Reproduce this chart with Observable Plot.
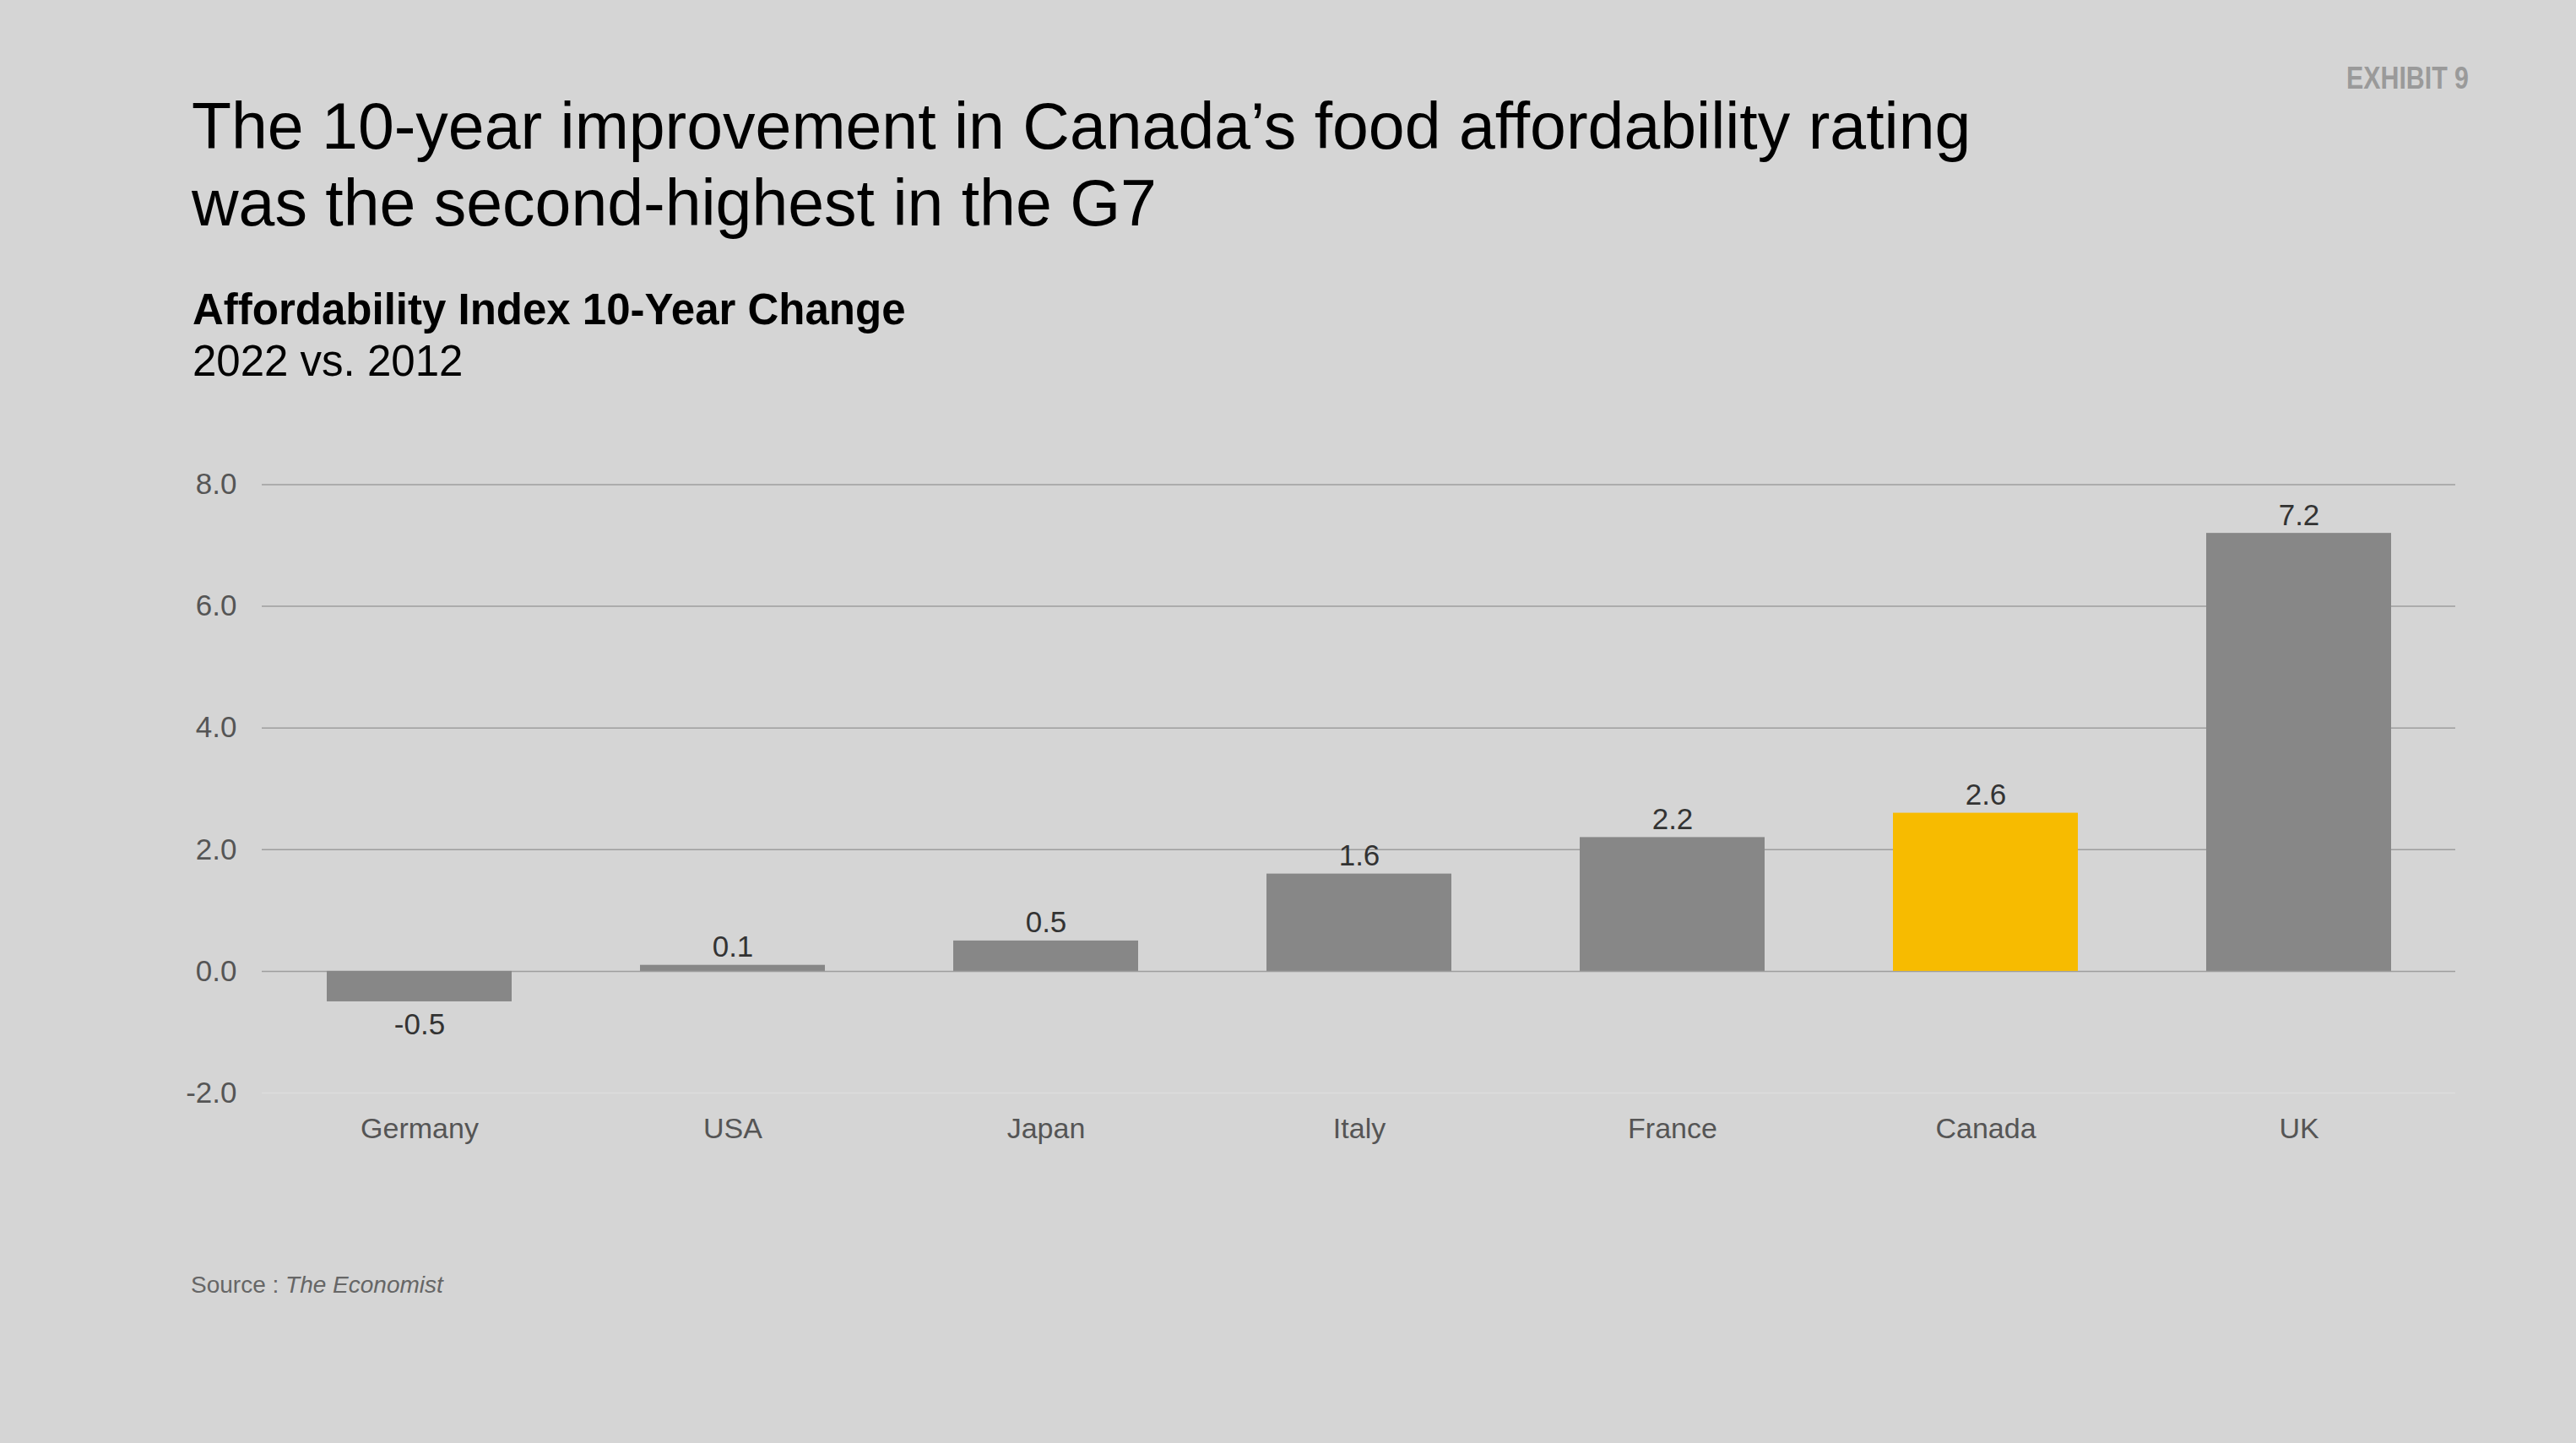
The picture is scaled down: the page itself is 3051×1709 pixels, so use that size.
<!DOCTYPE html>
<html>
<head>
<meta charset="utf-8">
<script src="https://cdn.jsdelivr.net/npm/d3@7"></script>
<script src="https://cdn.jsdelivr.net/npm/@observablehq/plot@0.6"></script>
<style>
  html, body { margin: 0; padding: 0; background: #d5d5d5; }
  #page { position: relative; width: 3051px; height: 1709px; background: #d5d5d5; font-family: "Liberation Sans", Arial, Helvetica, sans-serif; overflow: hidden; }
  #exhibit { position: absolute; left: 2779px; top: 74px; font-family: "Liberation Sans", Arial, sans-serif; font-weight: bold; font-size: 37px; color: #9a9a9a; line-height: 1; white-space: nowrap; transform: scaleX(0.82); transform-origin: left top; }
  #title { position: absolute; left: 227px; top: 104px; font-size: 77px; line-height: 91px; color: #000; white-space: nowrap; }
  #subtitle { position: absolute; left: 228px; top: 336px; font-size: 51px; line-height: 61px; color: #000; white-space: nowrap; }
  #subtitle b { font-weight: bold; }
  #chart { position: absolute; left: 0; top: 480px; }
  #source { position: absolute; left: 226px; top: 1506px; font-size: 28px; color: #666; white-space: nowrap; }
</style>
</head>
<body>
<div id="page">
  <div id="exhibit">EXHIBIT 9</div>
  <div id="title">The 10-year improvement in Canada’s food affordability rating<br>was the second-highest in the G7</div>
  <div id="subtitle"><b>Affordability Index 10-Year Change</b><br>2022 vs. 2012</div>
  <div id="chart"></div>
  <div id="source">Source : <i>The Economist</i></div>
</div>
<script>
const countries = ["Germany", "USA", "Japan", "Italy", "France", "Canada", "UK"];
const changes = [-0.5, 0.1, 0.5, 1.6, 2.2, 2.6, 7.2];
const highlight = "Canada";
const yTicks = [-2, 0, 2, 4, 6, 8];
const gridTicks = [0, 2, 4, 6, 8];

const data = countries.map((c, i) => ({country: c, value: changes[i]}));
const fmt = d => d.toFixed(1);

const chart = Plot.plot({
  width: 3051,
  height: 1000,
  marginLeft: 310,
  marginRight: 143,
  marginTop: 93.5,
  marginBottom: 186,
  style: {background: "transparent", fontFamily: "'Liberation Sans', Arial, Helvetica, sans-serif", fontSize: "34px", color: "#555"},
  x: {domain: countries, paddingInner: 0.41, paddingOuter: 0.205, label: null},
  y: {domain: [-2, 8], label: null},
  color: {type: "identity"},
  marks: [
    Plot.ruleY([-2], {stroke: "#dddddd", strokeWidth: 1.5}),
    Plot.ruleY(gridTicks, {stroke: "#9e9e9e", strokeWidth: 1.5}),
    Plot.barY(data, {x: "country", y: "value", fill: d => d.country === highlight ? "#f7bb00" : "#878787"}),
    Plot.text(data.filter(d => d.value >= 0), {x: "country", y: "value", text: d => fmt(d.value), lineAnchor: "bottom", dy: -10, fill: "#333", fontSize: 35}),
    Plot.text(data.filter(d => d.value < 0), {x: "country", y: "value", text: d => fmt(d.value), lineAnchor: "top", dy: 14, fill: "#333", fontSize: 35}),
    Plot.axisX({tickSize: 0, tickPadding: 29, fontSize: 34, fill: "#555", label: null}),
    Plot.axisY({ticks: yTicks, tickFormat: fmt, tickSize: 0, tickPadding: 30, fontSize: 35, fill: "#555", label: null})
  ]
});
document.getElementById("chart").appendChild(chart);
</script>
</body>
</html>
